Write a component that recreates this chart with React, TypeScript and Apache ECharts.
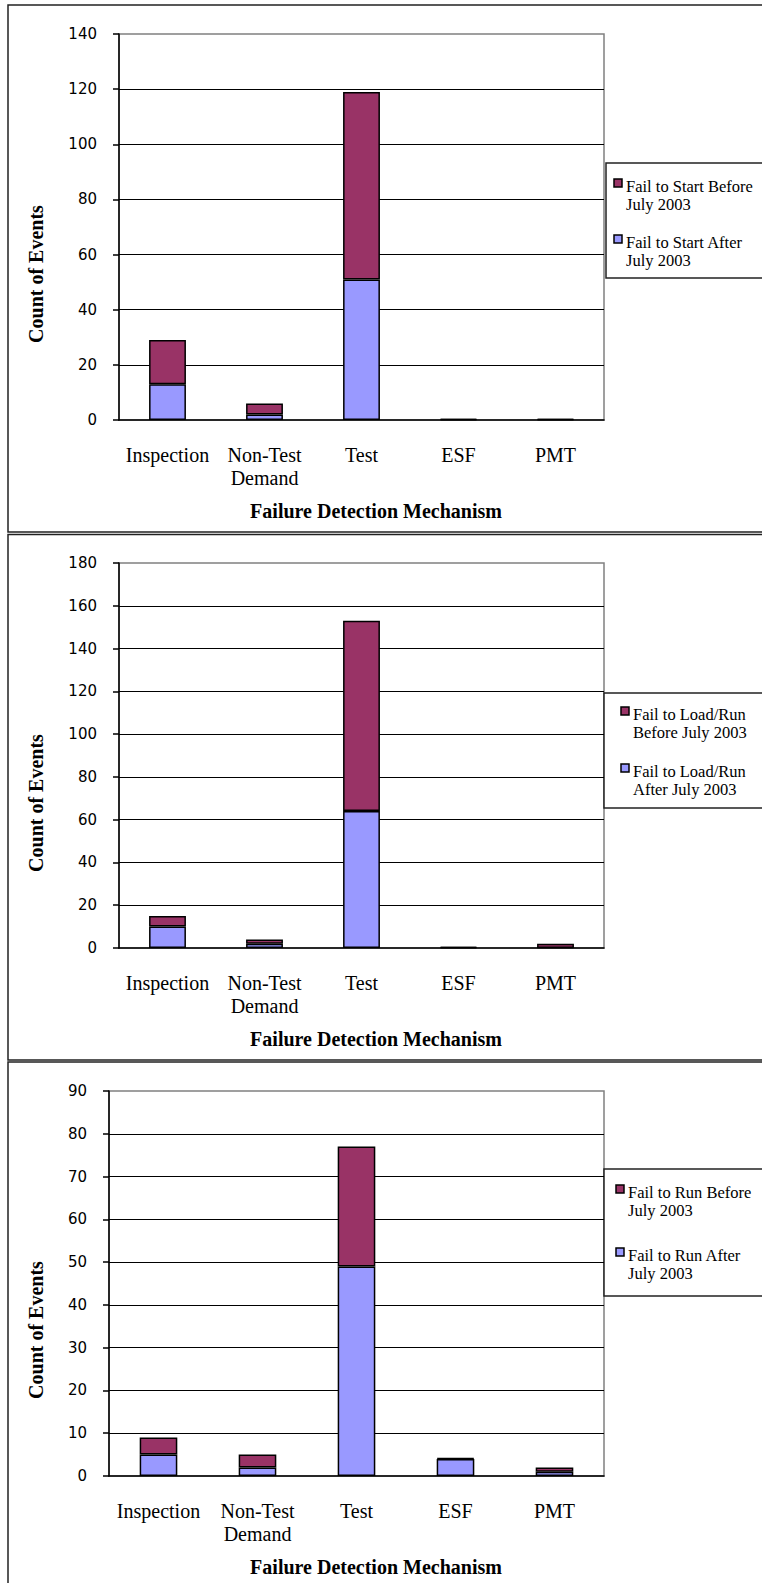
import React, { useEffect, useRef } from 'react';
import * as echarts from 'echarts';

// categories on the x axis (same for all three panels)
const categories = ['Inspection', 'Non-Test Demand', 'Test', 'ESF', 'PMT'];

// panel 1: fail to start
const startBefore = [16, 4, 68, 0, 0];
const startAfter = [13, 2, 51, 0, 0];
// panel 2: fail to load/run
const loadRunBefore = [5, 2, 89, 0, 2];
const loadRunAfter = [10, 2, 64, 0, 0];
// panel 3: fail to run
const runBefore = [4, 3, 28, 0, 1];
const runAfter = [5, 2, 49, 4, 1];

const startNames = ['Fail to Start Before July 2003', 'Fail to Start After July 2003'];
const loadRunNames = ['Fail to Load/Run Before July 2003', 'Fail to Load/Run After July 2003'];
const runNames = ['Fail to Run Before July 2003', 'Fail to Run After July 2003'];

const yMax = [140, 180, 90];
const yStep = [20, 20, 10];

const yTitle = 'Count of Events';
const xTitle = 'Failure Detection Mechanism';

const BEFORE = '#993366';
const AFTER = '#9999FF';
const SERIF = "'Liberation Serif', 'Times New Roman', serif";
const SANS = "'DejaVu Sans', Verdana, sans-serif";

// page layout, in px
const panels = [
  {
    top: 5, bottom: 532,
    grid: { left: 119, top: 34, right: 604, bottom: 420 },
    legend: { x: 606, top: 163, h: 115, markerX: 614, textX: 626, first: 23, step: 56 },
    yTitleY: 274,
    before: startBefore, after: startAfter, names: startNames,
  },
  {
    top: 534.5, bottom: 1060,
    grid: { left: 119, top: 563, right: 604, bottom: 948 },
    legend: { x: 604, top: 693, h: 115, markerX: 621, textX: 633, first: 21, step: 57 },
    yTitleY: 803,
    before: loadRunBefore, after: loadRunAfter, names: loadRunNames,
  },
  {
    top: 1062, bottom: 1592,
    grid: { left: 109, top: 1091, right: 604, bottom: 1476 },
    legend: { x: 604, top: 1169, h: 127, markerX: 616, textX: 628, first: 23, step: 63 },
    yTitleY: 1330,
    before: runBefore, after: runAfter, names: runNames,
  },
];

// greedy word wrap for legend labels
function wrap(text: string, max: number) {
  const lines: string[] = [];
  let cur = '';
  text.split(' ').forEach((w) => {
    const next = cur ? cur + ' ' + w : w;
    if (next.length > max && cur) {
      lines.push(cur);
      cur = w;
    } else {
      cur = next;
    }
  });
  if (cur) lines.push(cur);
  return lines.join('\n');
}

export default function App() {
  const ref = useRef<HTMLDivElement>(null);

  useEffect(() => {
    if (!ref.current) return;
    const chart = echarts.init(ref.current, undefined, { renderer: 'svg' });

    const grids: any[] = [];
    const xAxes: any[] = [];
    const yAxes: any[] = [];
    const series: any[] = [];
    const graphic: any[] = [];

    panels.forEach((p, i) => {
      const g = p.grid;
      grids.push({
        left: g.left,
        top: g.top,
        width: g.right - g.left,
        height: g.bottom - g.top,
        show: true,
        borderColor: '#808080',
        borderWidth: 1.5,
      });
      xAxes.push({
        type: 'category',
        gridIndex: i,
        data: categories,
        axisLine: { lineStyle: { color: '#000', width: 1.5 } },
        axisTick: { length: 5, lineStyle: { color: '#000', width: 1.5 } },
        axisLabel: {
          interval: 0,
          margin: 24,
          color: '#000',
          fontFamily: SERIF,
          fontSize: 20,
          lineHeight: 22.5,
          formatter: (v: string) => v.replace('Non-Test ', 'Non-Test\n'),
        },
        splitLine: { show: false },
      });
      yAxes.push({
        type: 'value',
        gridIndex: i,
        min: 0,
        max: yMax[i],
        interval: yStep[i],
        axisLine: { show: true, lineStyle: { color: '#000', width: 1.5 } },
        axisTick: { show: true, length: 6, lineStyle: { color: '#000', width: 1.5 } },
        axisLabel: { margin: 22, color: '#000', fontFamily: SANS, fontSize: 15 },
        splitLine: {
          show: true,
          showMinLine: false,
          showMaxLine: false,
          lineStyle: { color: '#000', width: 1 },
        },
      });

      const barCommon = {
        type: 'bar',
        xAxisIndex: i,
        yAxisIndex: i,
        stack: 'p' + i,
        barWidth: '38%',
        barMinHeight: 1,
      };
      series.push({
        ...barCommon,
        name: p.names[1],
        data: p.after,
        itemStyle: { color: AFTER, borderColor: '#000', borderWidth: 1.5 },
      });
      series.push({
        ...barCommon,
        name: p.names[0],
        data: p.before,
        itemStyle: { color: BEFORE, borderColor: '#000', borderWidth: 1.5 },
      });

      // panel frame
      graphic.push({
        type: 'rect',
        shape: { x: 8, y: p.top, width: 770, height: p.bottom - p.top },
        style: { fill: 'none', stroke: '#222', lineWidth: 1.5 },
        silent: true,
      });

      // axis titles
      graphic.push({
        type: 'text',
        x: 35.5,
        y: p.yTitleY,
        rotation: Math.PI / 2,
        style: {
          text: yTitle,
          fill: '#000',
          font: `bold 20px ${SERIF}`,
          textAlign: 'center',
          textVerticalAlign: 'middle',
        },
      });
      graphic.push({
        type: 'text',
        x: 376,
        y: g.bottom + 91,
        style: {
          text: xTitle,
          fill: '#000',
          font: `bold 20px ${SERIF}`,
          textAlign: 'center',
          textVerticalAlign: 'middle',
        },
      });

      // legend box
      const L = p.legend;
      graphic.push({
        type: 'rect',
        shape: { x: L.x, y: L.top, width: 770 - L.x, height: L.h },
        style: { fill: '#fff', stroke: '#222', lineWidth: 1.5 },
      });
      [BEFORE, AFTER].forEach((c, k) => {
        const cy = L.top + L.first + k * L.step;
        graphic.push({
          type: 'rect',
          shape: { x: L.markerX, y: cy - 7, width: 8, height: 8 },
          style: { fill: c, stroke: '#000', lineWidth: 1.5 },
        });
        graphic.push({
          type: 'text',
          x: L.textX,
          y: cy - 9,
          style: {
            text: wrap(p.names[k], 20),
            fill: '#000',
            font: `16.5px ${SERIF}`,
            lineHeight: 18,
            textAlign: 'left',
            textVerticalAlign: 'top',
          },
        });
      });
    });

    chart.setOption({
      animation: false,
      backgroundColor: '#fff',
      textStyle: { fontFamily: SERIF },
      grid: grids,
      xAxis: xAxes,
      yAxis: yAxes,
      series,
      graphic,
    });

    return () => {
      chart.dispose();
    };
  }, []);

  return (
    <div
      ref={ref}
      style={{ position: 'absolute', left: 0, top: 0, width: 762, height: 1583 }}
    />
  );
}
